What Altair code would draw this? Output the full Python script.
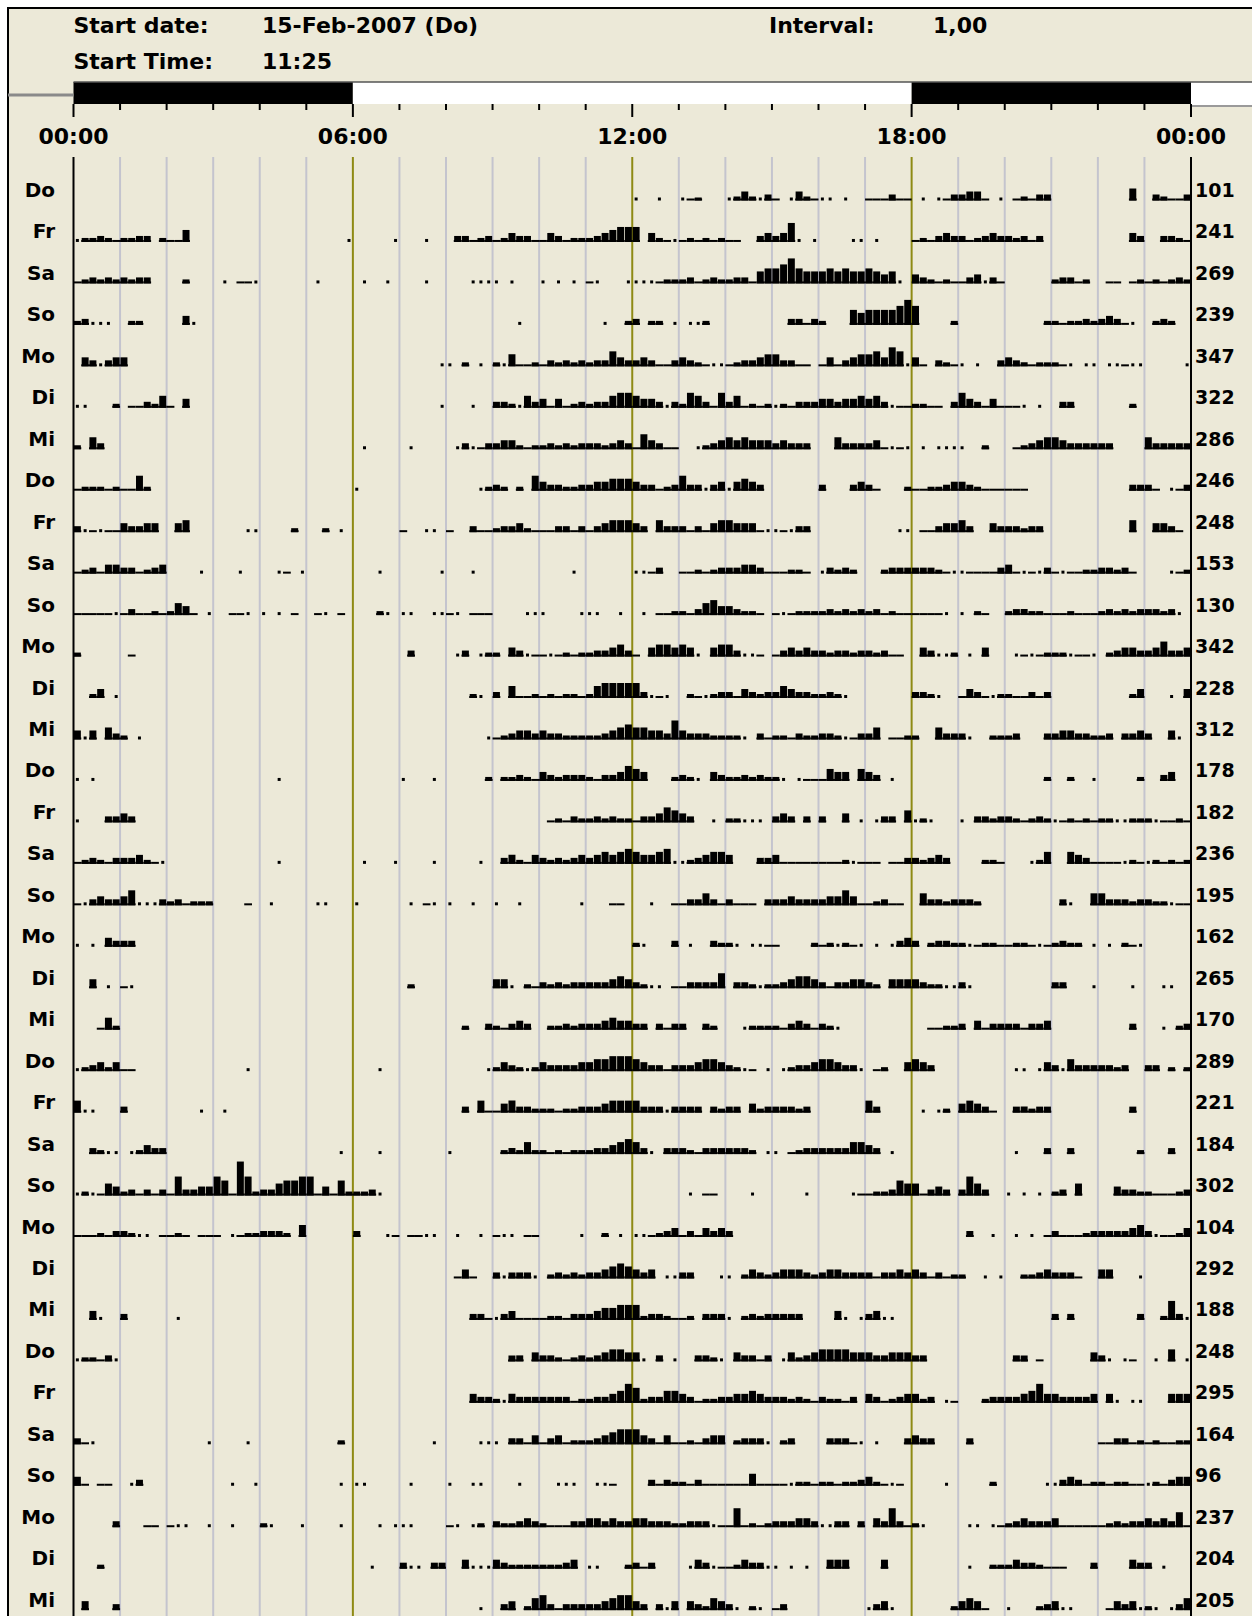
import altair as alt
import pandas as pd

# ---------------- data ----------------
DAY_LABELS = ["Do", "Fr", "Sa", "So", "Mo", "Di", "Mi",
              "Do", "Fr", "Sa", "So", "Mo", "Di", "Mi",
              "Do", "Fr", "Sa", "So", "Mo", "Di", "Mi",
              "Do", "Fr", "Sa", "So", "Mo", "Di", "Mi",
              "Do", "Fr", "Sa", "So", "Mo", "Di", "Mi"]
ROW_TOTALS = [101, 241, 269, 239, 347, 322, 286, 246, 248, 153, 130, 342,
              228, 312, 178, 182, 236, 195, 162, 265, 170, 289, 221, 184,
              302, 104, 292, 188, 248, 295, 164, 96, 237, 204, 205]
HOUR_TICKS = [0, 6, 12, 18, 24]
HOUR_LABELS = ["00:00", "06:00", "12:00", "18:00", "00:00"]
LIGHT_PHASES = [(0, 6, "dark"), (6, 18, "light"), (18, 24, "dark")]
HEADER = [("Start date:", 73.5, 33), ("15-Feb-2007 (Do)", 262, 33),
          ("Start Time:", 73.5, 69), ("11:25", 262, 69),
          ("Interval:", 769, 33), ("1,00", 933, 33)]

# one string per day, 24 hour groups of six 10-minute bins
# '.' none, ',' isolated count, '_' low baseline, '1'..'9' activity level
ACTIVITY = [
    "......|......|......|......|......|......|......|......|......|......|......|......|,..,..|,_1...|,242,3|_.,42_|,,.,..|___3__|.,.,_3|344_.,|._2_33|......|....5.|.32__3",
    ",2232_|2233.2|__5...|......|......|.....,|.....,|...,..|.33_23|_2433_|_43_22|234566|6.42_,|_2_2_2|__..34|347,.,|....,,|.,....|_2_343|3_2343|323_3.|......|....43|..332_",
    "_23232|3233..|..2...|.,.__,|......|.,....|.,..,.|...,..|...,,,|,.,...|,.,.,.|_,...,|,,,_22|23_232|233_56|678655|565655|6545,.|432_2_|_34,3_|......|233_2.|.__._2|_2_232",
    "23,,,.|.22...|..4,..|......|......|......|......|......|......|...,..|......|..,..2|3.22.,|.,,2..|......|..33_3|2...65|666678|7....2|......|.....2|2_2232|343_,.|.232..",
    ".43,34|4.....|......|......|......|......|......|.....,|,.2.,.|2,5__2|_32323|233643|343__3|432_,,|_23345|533__.|_4_345|56476,|4_.32_|,.,..3|432_22|2_,.,,|.,,_,,|.....,",
    ",,...2|.__325|_.4...|......|......|......|......|.....,|...,..|332,53|4_4_23|233566|5443,3|2653_6|35_2_2|,2_333|443445|453,__|22__.3|643_4_|__,.,.|.33...|....2.|......",
    "2.53..|......|......|......|......|......|.,....|.,....|.,3,_3|3442_2|232323|332343|_643__|..,234|545444|34333.|..5333|34_,_,|.,.,,,|,..2..|._2345|543333|33....|533333",
    "_222_2|__62..|......|......|......|......|,.....|......|....,2|32.2.6|433223|344555|433_23|633,34|,4543.|......|3...34|3_...2|__2234|432___|___...|......|....33|3_.,_3",
    "3,_,__|43344.|.45...|....,,|....2.|..2.,.|......|_..,,.|_..3__|23342_|__33_3|_34555|43.533|3_3_45|5444_,|,_,33.|......|....,,|.__344|53..43|33233.|......|....5.|.443_.",
    "_23_44|33_234|....,.|...,..|..,_.,|......|...,..|.....,|...,..|......|....,.|......|,,_3..|__2_23|33443_|__22_.|,3232.|..2333|3332_,|,____3|4_,_,3|_,__22|3323_.|...,_2",
    "_____,|_3__2_|254_.,|..__,.|,.,._.|._,._.|...2,.|,,..,,|_,.___|....,,|,....,|,,..,.|.,.__2|2_3564|4322_.|_,_222|232323|23_2__|____,.|,.2_..|23322_|__2___|232323|3323,.",
    "2.....|._....|......|......|......|......|......|.3....|.,3.,2|2.43,_|_,_2_2|233453|_.4554|54,.45|53,,_.|_34343|323323|323__.|.43,,2|.,.4..|.,_,_2|22,__,|.23443|346334",
    "..24.,|......|......|......|......|......|......|......|...2,.|3.5__2|_2_22_|256666|63,_,.|.2_,23|3_4323|354332|232,..|......|332,..|_43_,2|2__3_3|......|....24|...,.4",
    "4,4.53|2.,...|......|......|......|......|......|......|.....,|_23443|433222|223456|554437|433322|22,.3_|22_322|332,_3|35.__2|2..533|3,..22|23...3|344332|23.334|3..4,.",
    ",.,...|......|......|......|..,...|......|......|,...,.|.....2|.2232_|432333|2_3346|54...2|32,.43|223232|2,.,__|_544.5|43.,..|......|......|.....2|..2..,|.....2|..34..",
    ",...33|43....|......|......|......|......|......|......|......|......|._2_32|232322|_33465|43..,.|22,,,.|343.3.|3..4.,|.,33.5|,2,...|,.3323|32_232|,_2_2_|22,,22|2,__2_",
    "_232_3|3342_,|......|......|..,...|......|.,...,|....,.|....,.|.342_4|323234|345456|54456,|,23455|4...33|4_____|___2,_|__.__3|32343.|...22_|...,25|..543_|___,2_|,2_2_2",
    "_,3433|46,,,3|23_222|...._.|.,....|.,,...|,.....|.,._,.|,..,..|,..,..|.....,|...__.|..,.._|_3353_|3___.3|334333|34464_|_23__.|.53323|332...|......|.3,..5|533323|322,__",
    ",.,.43|33....|......|......|......|......|......|......|......|......|......|......|2,...3|.,..32|2,.,,_|_....2|_2,2_,|.,.,34|3.2332|2,_22_|_22_,_|2322.,|.,.2_,|......",
    "..4.,.|_,....|......|......|......|......|......|.2....|......|44,.2_|323233|333454|32,,._|_33336|.332,2|234554|3_3344|32.444|4322,,|3,....|......|33...,|....,.|..,,..",
    "..._52|......|......|......|......|......|......|......|..2..3|2_343.|.22323|334544|33.3_3|3..32.|..,222|2_343_|32,...|......|..__22|3.4_33|33_334|......|....3.|..,.23",
    ",23424|__....|......|....,.|......|......|...,..|......|.....,|2432,2|433334|455666|5433_3|334554|32,_.,|.,2334|55433,|._2..4|543...|......|.,,.,4|3,5333|3323..|33.2.2",
    "5,,...|3.....|....,.|.,....|......|......|......|......|..3.5_|_45332|22_223|334555|5333,3|333.32|33.423|33323.|......|53....|.,.,2.|4543_.|.33233|......|....3.|......",
    "..32,,|.,2433|......|......|......|....,.|...,..|......|,.....|.23252|2_2_22|233456|53,.33|32_333|3332.,|,._233|333355|43.,..|......|......|.,...3|..3...|.....2|...3..",
    ",2,_54|23_3_3|_73344|76_972|335667|7_4_62|223,..|......|......|......|......|......|......|.,.__.|...,..|....,.|....,_|_22365|5_343.|3753..|,.,.,.|23.5..|..4332|2___23",
    "___2_3|32,,._|_2_.__|_.,_22|3332.5|......|3...,_|.__,,.|.,..,.|_,,.__|.....,|..2.,.|,,_234|_3_434|3.....|......|......|......|......|.3..,.|.,.,._|3___23|333345|3,__24",
    "......|......|......|......|......|......|......|......|._4_..|3,333,|.23232|334565|434.,,|33...,|,.2432|344432|344333|3_3343|43_3_2|2..,.,|..2234|333_..|44...,|......",
    "..4,..|3.....|.,....|......|......|......|......|......|...33_|,34___|_22_33|345566|62332_|_2.333|,.2323|3333..|..4,.,|34,,..|......|......|......|3.3...|.....3|..273,",
    ",22_3,|......|......|......|......|......|......|......|......|..33.4|332_23|234554|4,.3.,|..332,|.433_3|.,4234|555544|433444|33....|......|.33._.|.....4|3,.,_.|.,.5.,",
    "......|......|......|......|......|......|......|......|...433|2,4333|3333_2|233457|623355|43_223|344543|33232_|322_3.|43_234|423.,_|...233|334574|433334|.4,.,,|...444",
    "3_,...|......|.....,|....,.|......|....2.|......|....,.|....,,|,.33_4|_34_22|234566|643_4_|_2_344|.2333,|.23...|.333_,|.,...3|433...|.3....|......|......|__33_2|_2__22",
    "4_.__.|.,3...|......|..,..,|......|....,.|,,....|.,....|,..,,.|...,..|..,,,.|.,,_..|..3_32|2_3___|___5__|__,22_|22_223|42_,_.|....,.|....2.|.....,|,343_2|2_22__|,2_344",
    ".....3|...__.|_,,..,|..,...|2,...,|....,.|...,.,|,,....|_,.,2.|322343|2___33|443433|443332|2333,_|_7_2_2|333443|,,33.3|.4373_|2,....|.,,.,_|234333|4_____|_23233|43436_",
    "...2..|......|......|......|......|......|..,...|3,,.33|..4,,,|432222|22234.|,,...2|3_3...|.,43,_|_2433,|,.,.,.|.444..|..4...|......|.,..22|24332_|__...3|....43|3.,...",
    ".4...3|......|......|......|......|......|......|......|....,.|.34.25|63_333|334566|43.3,4|.43254|3,.2,.|_3....|......|,34,..|.....2|454_..|,...23|4,,...|._434,|2,.,35",
]

# ---------------- layout / style ----------------
W, H = 1252, 1616
X0, X24 = 73.5, 1191.0
PPH = (X24 - X0) / 24.0
BASE0 = 200.5
PITCH = 41.46
LEVEL_PX = {"1": 3, "2": 4, "3": 6, "4": 9, "5": 12, "6": 15, "7": 19, "8": 25, "9": 34}
BEIGE = "#ECE9D8"
GRID = "#C4C4CE"
OLIVE = "#8E8A14"
FONT = "DejaVu Sans"


def hx(px):
    return (px - X0) / PPH


def ry(px):
    return (px - BASE0) / PITCH


XS = alt.Scale(domain=[hx(0), hx(W)], nice=False, zero=False)
YS = alt.Scale(domain=[ry(0), ry(H)], nice=False, zero=False, reverse=True)


def xq(f):
    return alt.X(f, type="quantitative", scale=XS, axis=None)


def yq(f):
    return alt.Y(f, type="quantitative", scale=YS, axis=None)


# ---------------- activity bars ----------------
recs = []
bw = 1.0 / 6.0
for r, s in enumerate(ACTIVITY):
    groups = s.split("|")
    groups = (groups + ["......"] * 24)[:24]
    cells = "".join(g.ljust(6, ".")[:6] for g in groups)
    for b, c in enumerate(cells):
        if c == ".":
            continue
        t0, t1 = b * bw, (b + 1) * bw
        if c == ",":
            mid = (t0 + t1) / 2
            recs.append(dict(x=mid - 1.5 / PPH, x2=mid + 1.5 / PPH, y=r, y2=r - 3.0 / PITCH))
            continue
        recs.append(dict(x=t0, x2=t1, y=r, y2=r - 2.0 / PITCH))
        if c != "_":
            hpx = LEVEL_PX[c]
            pad = bw * 0.05
            recs.append(dict(x=t0 + pad, x2=t1 - pad, y=r, y2=r - hpx / PITCH))
bars_df = pd.DataFrame(recs)

bars = alt.Chart(bars_df).mark_rect(color="black").encode(
    x=xq("x"), x2="x2", y=yq("y"), y2="y2")

# ---------------- background & frame ----------------
bg = alt.Chart(pd.DataFrame([{"x": hx(8), "x2": hx(W) + 1, "y": ry(8), "y2": ry(H) + 1}])).mark_rect(
    color=BEIGE).encode(x=xq("x"), x2="x2", y=yq("y"), y2="y2")
frame_top = alt.Chart(pd.DataFrame([{"x": hx(7), "x2": hx(W) + 1, "y": ry(8)}])).mark_rule(
    color="black", strokeWidth=2).encode(x=xq("x"), x2="x2", y=yq("y"))
frame_left = alt.Chart(pd.DataFrame([{"x": hx(8), "y": ry(7), "y2": ry(H) + 1}])).mark_rule(
    color="black", strokeWidth=2).encode(x=xq("x"), y=yq("y"), y2="y2")

# ---------------- grid lines ----------------
grid_df = pd.DataFrame({"h": list(range(1, 24))})
grid_df["kind"] = ["major" if h % 6 == 0 else "minor" for h in grid_df["h"]]
grid_df["y"] = ry(157)
grid_df["y2"] = ry(H) + 1
grid_minor = alt.Chart(grid_df[grid_df.kind == "minor"]).mark_rule(
    color=GRID, strokeWidth=2).encode(x=xq("h"), y=yq("y"), y2="y2")
grid_major = alt.Chart(grid_df[grid_df.kind == "major"]).mark_rule(
    color=OLIVE, strokeWidth=2).encode(x=xq("h"), y=yq("y"), y2="y2")
axes_df = pd.DataFrame({"h": [0, 24], "y": [ry(157)] * 2, "y2": [ry(H) + 1] * 2})
axes_lines = alt.Chart(axes_df).mark_rule(color="black", strokeWidth=2).encode(
    x=xq("h"), y=yq("y"), y2="y2")

# ---------------- light/dark bar ----------------
phase_df = pd.DataFrame(LIGHT_PHASES, columns=["start", "end", "phase"])
phase_df["y"] = ry(82)
phase_df["y2"] = ry(104)
phase_bar = alt.Chart(phase_df).mark_rect().encode(
    x=xq("start"), x2="end", y=yq("y"), y2="y2",
    color=alt.Color("phase:N", scale=alt.Scale(domain=["dark", "light"], range=["black", "white"]),
                    legend=None))
white_tail = alt.Chart(pd.DataFrame([{"x": 24, "x2": hx(W) + 1, "y": ry(82), "y2": ry(106)}])).mark_rect(
    color="white").encode(x=xq("x"), x2="x2", y=yq("y"), y2="y2")
bar_top = alt.Chart(pd.DataFrame([{"x": 0, "x2": hx(W) + 1, "y": ry(82)}])).mark_rule(
    color="#555555", strokeWidth=1.5).encode(x=xq("x"), x2="x2", y=yq("y"))
tail_bottom = alt.Chart(pd.DataFrame([{"x": 24, "x2": hx(W) + 1, "y": ry(106)}])).mark_rule(
    color="#9A9A9A", strokeWidth=2).encode(x=xq("x"), x2="x2", y=yq("y"))
left_stub = alt.Chart(pd.DataFrame([{"x": hx(8), "x2": 0, "y": ry(95)}])).mark_rule(
    color="#8A8A8A", strokeWidth=3).encode(x=xq("x"), x2="x2", y=yq("y"))

tick_df = pd.DataFrame({"h": list(range(0, 25))})
tick_df["y"] = ry(104)
tick_df["y2"] = [ry(117) if h % 6 == 0 else ry(110) for h in tick_df["h"]]
ticks = alt.Chart(tick_df).mark_rule(color="black", strokeWidth=2).encode(
    x=xq("h"), y=yq("y"), y2="y2")

# ---------------- texts ----------------
hour_df = pd.DataFrame({"h": HOUR_TICKS, "label": HOUR_LABELS, "y": ry(137)})
hour_text = alt.Chart(hour_df).mark_text(
    font=FONT, fontWeight="bold", fontSize=22, align="center", baseline="middle", color="black"
).encode(x=xq("h"), y=yq("y"), text="label:N")

rows_df = pd.DataFrame({"row": list(range(len(DAY_LABELS))), "day": DAY_LABELS,
                        "total": [str(v) for v in ROW_TOTALS]})
rows_df["ly"] = rows_df["row"] - 9.5 / PITCH
rows_df["lx"] = hx(55)
rows_df["tx"] = hx(1195)
day_text = alt.Chart(rows_df).mark_text(
    font=FONT, fontWeight="bold", fontSize=20, align="right", baseline="middle", color="black"
).encode(x=xq("lx"), y=yq("ly"), text="day:N")
total_text = alt.Chart(rows_df).mark_text(
    font=FONT, fontWeight="bold", fontSize=19, align="left", baseline="middle", color="black"
).encode(x=xq("tx"), y=yq("ly"), text="total:N")

head_df = pd.DataFrame(HEADER, columns=["label", "px", "py"])
head_df["x"] = [hx(v) for v in head_df["px"]]
head_df["y"] = [ry(v) for v in head_df["py"]]
head_text = alt.Chart(head_df).mark_text(
    font=FONT, fontWeight="bold", fontSize=22, align="left", baseline="alphabetic", color="black"
).encode(x=xq("x"), y=yq("y"), text="label:N")

chart = alt.layer(
    bg, frame_top, frame_left,
    grid_minor, grid_major,
    bars,
    axes_lines,
    white_tail, phase_bar, bar_top, tail_bottom, left_stub, ticks,
    hour_text, day_text, total_text, head_text,
).properties(
    width=W, height=H, autosize=alt.AutoSizeParams(type="none"), padding=0,
    background="white",
).configure_view(stroke=None)

chart.save("out.html", embed_options={"renderer": "svg", "actions": False})
